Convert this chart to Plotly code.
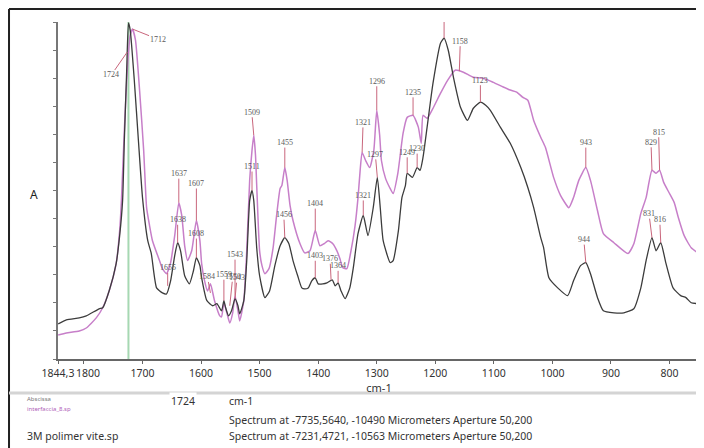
import plotly.graph_objects as go

# ---------------- data ----------------
# 3M polimer vite.sp (dark spectrum): wavenumber (cm-1) and absorbance (relative)
dark_wn = [1844, 1830, 1808, 1796, 1774, 1768, 1757, 1745, 1739, 1734, 1731, 1727, 1724, 1721, 1714,
           1707, 1700, 1691, 1685, 1676, 1666, 1659, 1652, 1645, 1640, 1635, 1628, 1620, 1613, 1608,
           1602, 1599, 1590, 1580, 1573, 1565, 1561, 1558, 1553, 1548, 1542, 1537, 1534, 1527, 1522,
           1517, 1513, 1510, 1505, 1500, 1491, 1483, 1474, 1465, 1457, 1450, 1443, 1435, 1428, 1423,
           1417, 1411, 1405, 1400, 1392, 1385, 1376, 1371, 1366, 1361, 1354, 1346, 1340, 1332, 1323,
           1315, 1306, 1299, 1294, 1289, 1277, 1272, 1263, 1257, 1251, 1248, 1239, 1231, 1226, 1221,
           1214, 1204, 1191, 1185, 1178, 1169, 1157, 1145, 1135, 1123, 1114, 1106, 1089, 1072, 1054,
           1042, 1032, 1020, 1015, 1006, 991, 974, 964, 952, 943, 935, 923, 913, 895, 878,
           861, 849, 840, 830, 823, 815, 806, 794, 781, 772, 763, 750]
dark_abs = [0.104, 0.116, 0.122, 0.128, 0.149, 0.152, 0.202, 0.283, 0.366, 0.470, 0.649, 0.857, 0.997, 0.976, 0.827,
            0.649, 0.479, 0.351, 0.313, 0.211, 0.196, 0.193, 0.232, 0.307, 0.345, 0.321, 0.247, 0.223, 0.262, 0.301,
            0.277, 0.241, 0.173, 0.158, 0.164, 0.143, 0.173, 0.152, 0.128, 0.143, 0.179, 0.158, 0.134, 0.173, 0.292,
            0.470, 0.500, 0.470, 0.330, 0.247, 0.182, 0.202, 0.277, 0.336, 0.360, 0.342, 0.292, 0.247, 0.211, 0.208,
            0.211, 0.232, 0.241, 0.223, 0.223, 0.226, 0.235, 0.217, 0.226, 0.202, 0.179, 0.211, 0.271, 0.372, 0.426,
            0.366, 0.449, 0.539, 0.449, 0.351, 0.286, 0.292, 0.381, 0.479, 0.515, 0.551, 0.539, 0.568, 0.560, 0.598,
            0.688, 0.818, 0.938, 0.952, 0.917, 0.836, 0.747, 0.708, 0.744, 0.762, 0.753, 0.738, 0.688, 0.640, 0.568,
            0.509, 0.449, 0.360, 0.330, 0.241, 0.211, 0.188, 0.232, 0.277, 0.286, 0.253, 0.182, 0.143, 0.137, 0.137,
            0.149, 0.211, 0.292, 0.360, 0.321, 0.345, 0.283, 0.211, 0.188, 0.182, 0.167, 0.164]

# interfaccia_8.sp (pink spectrum)
pink_wn = [1844, 1830, 1808, 1796, 1779, 1768, 1757, 1745, 1739, 1736, 1731, 1726, 1721, 1717, 1712,
           1705, 1698, 1693, 1688, 1683, 1671, 1666, 1659, 1652, 1645, 1638, 1633, 1628, 1623, 1616,
           1608, 1602, 1599, 1594, 1589, 1584, 1577, 1568, 1565, 1561, 1556, 1551, 1546, 1542, 1537,
           1534, 1527, 1522, 1517, 1513, 1510, 1507, 1505, 1500, 1496, 1491, 1484, 1477, 1471, 1465,
           1462, 1457, 1453, 1448, 1443, 1431, 1423, 1414, 1405, 1397, 1390, 1383, 1375, 1368, 1363,
           1358, 1351, 1344, 1337, 1332, 1329, 1325, 1319, 1312, 1305, 1300, 1295, 1292, 1285, 1278,
           1272, 1264, 1255, 1248, 1238, 1229, 1224, 1221, 1214, 1203, 1191, 1179, 1166, 1152, 1135,
           1118, 1101, 1084, 1072, 1061, 1051, 1042, 1032, 1020, 1012, 998, 986, 972, 964, 955,
           943, 935, 923, 913, 895, 871, 861, 849, 840, 830, 823, 817, 810, 801, 792,
           785, 775, 763, 750]
pink_abs = [0.071, 0.077, 0.083, 0.092, 0.122, 0.152, 0.202, 0.283, 0.381, 0.470, 0.679, 0.857, 0.961, 0.979, 0.946,
            0.798, 0.619, 0.449, 0.396, 0.351, 0.292, 0.268, 0.253, 0.286, 0.366, 0.464, 0.426, 0.336, 0.292, 0.321,
            0.411, 0.351, 0.283, 0.232, 0.202, 0.223, 0.173, 0.128, 0.125, 0.167, 0.137, 0.107, 0.137, 0.188, 0.143,
            0.113, 0.173, 0.321, 0.530, 0.619, 0.664, 0.604, 0.515, 0.321, 0.277, 0.253, 0.268, 0.330, 0.426, 0.506,
            0.515, 0.568, 0.530, 0.455, 0.411, 0.342, 0.315, 0.321, 0.381, 0.336, 0.342, 0.351, 0.342, 0.321, 0.298,
            0.271, 0.268, 0.321, 0.396, 0.479, 0.545, 0.613, 0.589, 0.568, 0.619, 0.738, 0.664, 0.589, 0.536, 0.509,
            0.491, 0.551, 0.670, 0.717, 0.723, 0.688, 0.640, 0.723, 0.714, 0.747, 0.789, 0.827, 0.857, 0.851, 0.836,
            0.833, 0.821, 0.807, 0.798, 0.792, 0.777, 0.768, 0.708, 0.658, 0.628, 0.539, 0.485, 0.449, 0.479, 0.530,
            0.568, 0.530, 0.440, 0.372, 0.345, 0.313, 0.342, 0.432, 0.479, 0.560, 0.551, 0.560, 0.524, 0.494, 0.464,
            0.420, 0.366, 0.330, 0.313]

# peak labels: text, wavenumber, absorbance at the leader foot
peak_text = ["1724", "1712", "1655", "1637", "1638", "1607", "1608", "1584", "1559", "1550", "1543", "1543",
             "1509", "1511", "1455", "1456", "1404", "1403", "1376", "1364", "1321", "1321", "1296", "1297",
             "1235", "1249", "1230", "1158", "1123", "943", "944", "829", "815", "831", "816"]
peak_wn = [1726, 1717, 1657, 1638, 1640, 1608, 1608, 1584, 1561, 1551, 1542, 1542,
           1510, 1513, 1457, 1457, 1405, 1405, 1378, 1366, 1325, 1323, 1300, 1299,
           1238, 1248, 1231, 1159, 1123, 943, 943, 830, 817, 830, 815]
peak_abs = [0.911, 0.979, 0.217, 0.464, 0.345, 0.411, 0.301, 0.196, 0.173, 0.158, 0.188, 0.179,
            0.664, 0.500, 0.568, 0.360, 0.381, 0.241, 0.235, 0.226, 0.613, 0.426, 0.738, 0.539,
            0.723, 0.551, 0.568, 0.854, 0.762, 0.568, 0.286, 0.560, 0.560, 0.360, 0.345]
# label offsets (pixels) relative to the leader foot -- style only
peak_off = [(-16, 23), (25, 10), (0, -18), (0, -29), (0, -23), (0, -37), (0, -24), (-3, -16), (0, -26), (3, -29),
            (0, -41), (2, -21), (-2, -23), (0, -24), (0, -25), (-1, -23), (0, -27), (0, -22), (-1, -21), (0, -17),
            (1, -30), (0, -20), (0, -29), (-2, -23), (0, -23), (0, -21), (0, -19), (1, -30), (0, -22), (0, -25),
            (-2, -23), (-1, -28), (-1, -38), (-3, -24), (-1, -23)]

# tall dark band near 1185 cm-1 whose label falls outside the frame
clipped_peak_wn = 1185
clipped_peak_abs = 0.952

marker_wn = 1724  # cursor position

x_tickvals = [1844.3, 1800, 1700, 1600, 1500, 1400, 1300, 1200, 1100, 1000, 900, 800]
x_ticktext = ["1844,3", "\u00a0\u00a0\u00a01800", "1700", "1600", "1500", "1400", "1300", "1200", "1100", "1000", "900", "800"]

spectrum_names = ["interfaccia_8.sp", "3M polimer vite.sp"]
spectrum_info = ["Spectrum at -7735,5640, -10490 Micrometers Aperture 50,200",
                 "Spectrum at -7231,4721, -10563 Micrometers Aperture 50,200"]

# ---------------- figure ----------------
PINK = "#c77fc9"
DARK = "#3c3c3c"
LEAD = "#c9667c"

fig = go.Figure()
fig.add_trace(go.Scatter(x=pink_wn, y=pink_abs, mode="lines", name=spectrum_names[0],
                         line=dict(color=PINK, width=1.5, shape="spline", smoothing=0.5)))
fig.add_trace(go.Scatter(x=dark_wn, y=dark_abs, mode="lines", name=spectrum_names[1],
                         line=dict(color=DARK, width=1.3, shape="spline", smoothing=0.5)))

# cursor line
fig.add_shape(type="line", xref="x", yref="paper", x0=marker_wn, x1=marker_wn, y0=0, y1=1.0,
              line=dict(color="#a6d8b2", width=2), layer="below")
# leader of the clipped label
fig.add_shape(type="line", xref="x", yref="paper", x0=clipped_peak_wn, x1=clipped_peak_wn,
              y0=clipped_peak_abs, y1=1.0, line=dict(color=LEAD, width=1))

for t, xw, ya, (dx, dy) in zip(peak_text, peak_wn, peak_abs, peak_off):
    fig.add_annotation(x=xw, y=ya, xref="x", yref="y", text=t, showarrow=True,
                       arrowhead=0, arrowwidth=1, arrowcolor=LEAD, ax=dx, ay=dy,
                       standoff=0, borderpad=0,
                       font=dict(family="Liberation Serif, DejaVu Serif, serif", size=8, color="#5a5a5a"))

# outer frame (top and left) and separator
fig.add_shape(type="line", xref="paper", yref="paper", x0=-0.0763, x1=1.02, y0=1.0386, y1=1.0386,
              line=dict(color="#222222", width=2))
fig.add_shape(type="line", xref="paper", yref="paper", x0=-0.0763, x1=-0.0763, y0=1.0386, y1=-0.27,
              line=dict(color="#222222", width=2))
fig.add_shape(type="line", xref="paper", yref="paper", x0=-0.0763, x1=1.02, y0=-0.101, y1=-0.101,
              line=dict(color="#d4d4d4", width=3))

# y-axis title "A"
fig.add_annotation(xref="paper", yref="paper", x=-0.047, y=0.487, text="A", showarrow=False,
                   font=dict(family="Noto Sans", size=12, color="#222222"))

# bottom information panel
TXT = dict(family="Noto Sans", size=10.5, color="#333333")
fig.add_annotation(xref="paper", yref="paper", x=-0.0514, y=-0.119, xanchor="left", yanchor="middle",
                   text="Abscissa", showarrow=False, font=dict(family="Noto Sans", size=6, color="#777777"))
fig.add_annotation(xref="paper", yref="paper", x=-0.0514, y=-0.148, xanchor="left", yanchor="middle",
                   text=spectrum_names[0], showarrow=False, font=dict(family="Noto Sans", size=6, color="#b060b8"))
fig.add_annotation(xref="paper", yref="paper", x=0.1947, y=-0.1246, xanchor="center", yanchor="middle",
                   text=str(marker_wn), showarrow=False, bgcolor="white", font=TXT)
fig.add_annotation(xref="paper", yref="paper", x=0.263, y=-0.1246, xanchor="left", yanchor="middle",
                   text="cm-1", showarrow=False, font=TXT)
fig.add_annotation(xref="paper", yref="paper", x=0.263, y=-0.181, xanchor="left", yanchor="middle",
                   text=spectrum_info[0], showarrow=False, font=TXT)
fig.add_annotation(xref="paper", yref="paper", x=-0.0514, y=-0.2285, xanchor="left", yanchor="middle",
                   text=spectrum_names[1], showarrow=False, font=TXT)
fig.add_annotation(xref="paper", yref="paper", x=0.263, y=-0.2285, xanchor="left", yanchor="middle",
                   text=spectrum_info[1], showarrow=False, font=TXT)

fig.update_layout(
    width=696, height=440,
    margin=dict(l=50, r=4, t=14, b=89, autoexpand=False),
    paper_bgcolor="white", plot_bgcolor="white",
    showlegend=False,
    xaxis=dict(range=[1844.3, 748], tickmode="array", tickvals=x_tickvals, ticktext=x_ticktext,
               tickangle=0, automargin=False,
               showgrid=False, zeroline=False, showline=True, linecolor="#666666", linewidth=2,
               ticks="outside", ticklen=3, tickcolor="#666666",
               tickfont=dict(family="Noto Sans", size=10.5, color="#333333"),
               title=dict(text="cm-1", font=dict(family="Noto Sans", size=11, color="#333333"), standoff=0)),
    yaxis=dict(range=[0, 1], dtick=1/12, tick0=0, automargin=False,
               showgrid=False, zeroline=False, showline=True,
               linecolor="#777777", linewidth=2, ticks="outside", ticklen=3, tickcolor="#777777",
               showticklabels=False),
)

fig.write_html("out.html")
